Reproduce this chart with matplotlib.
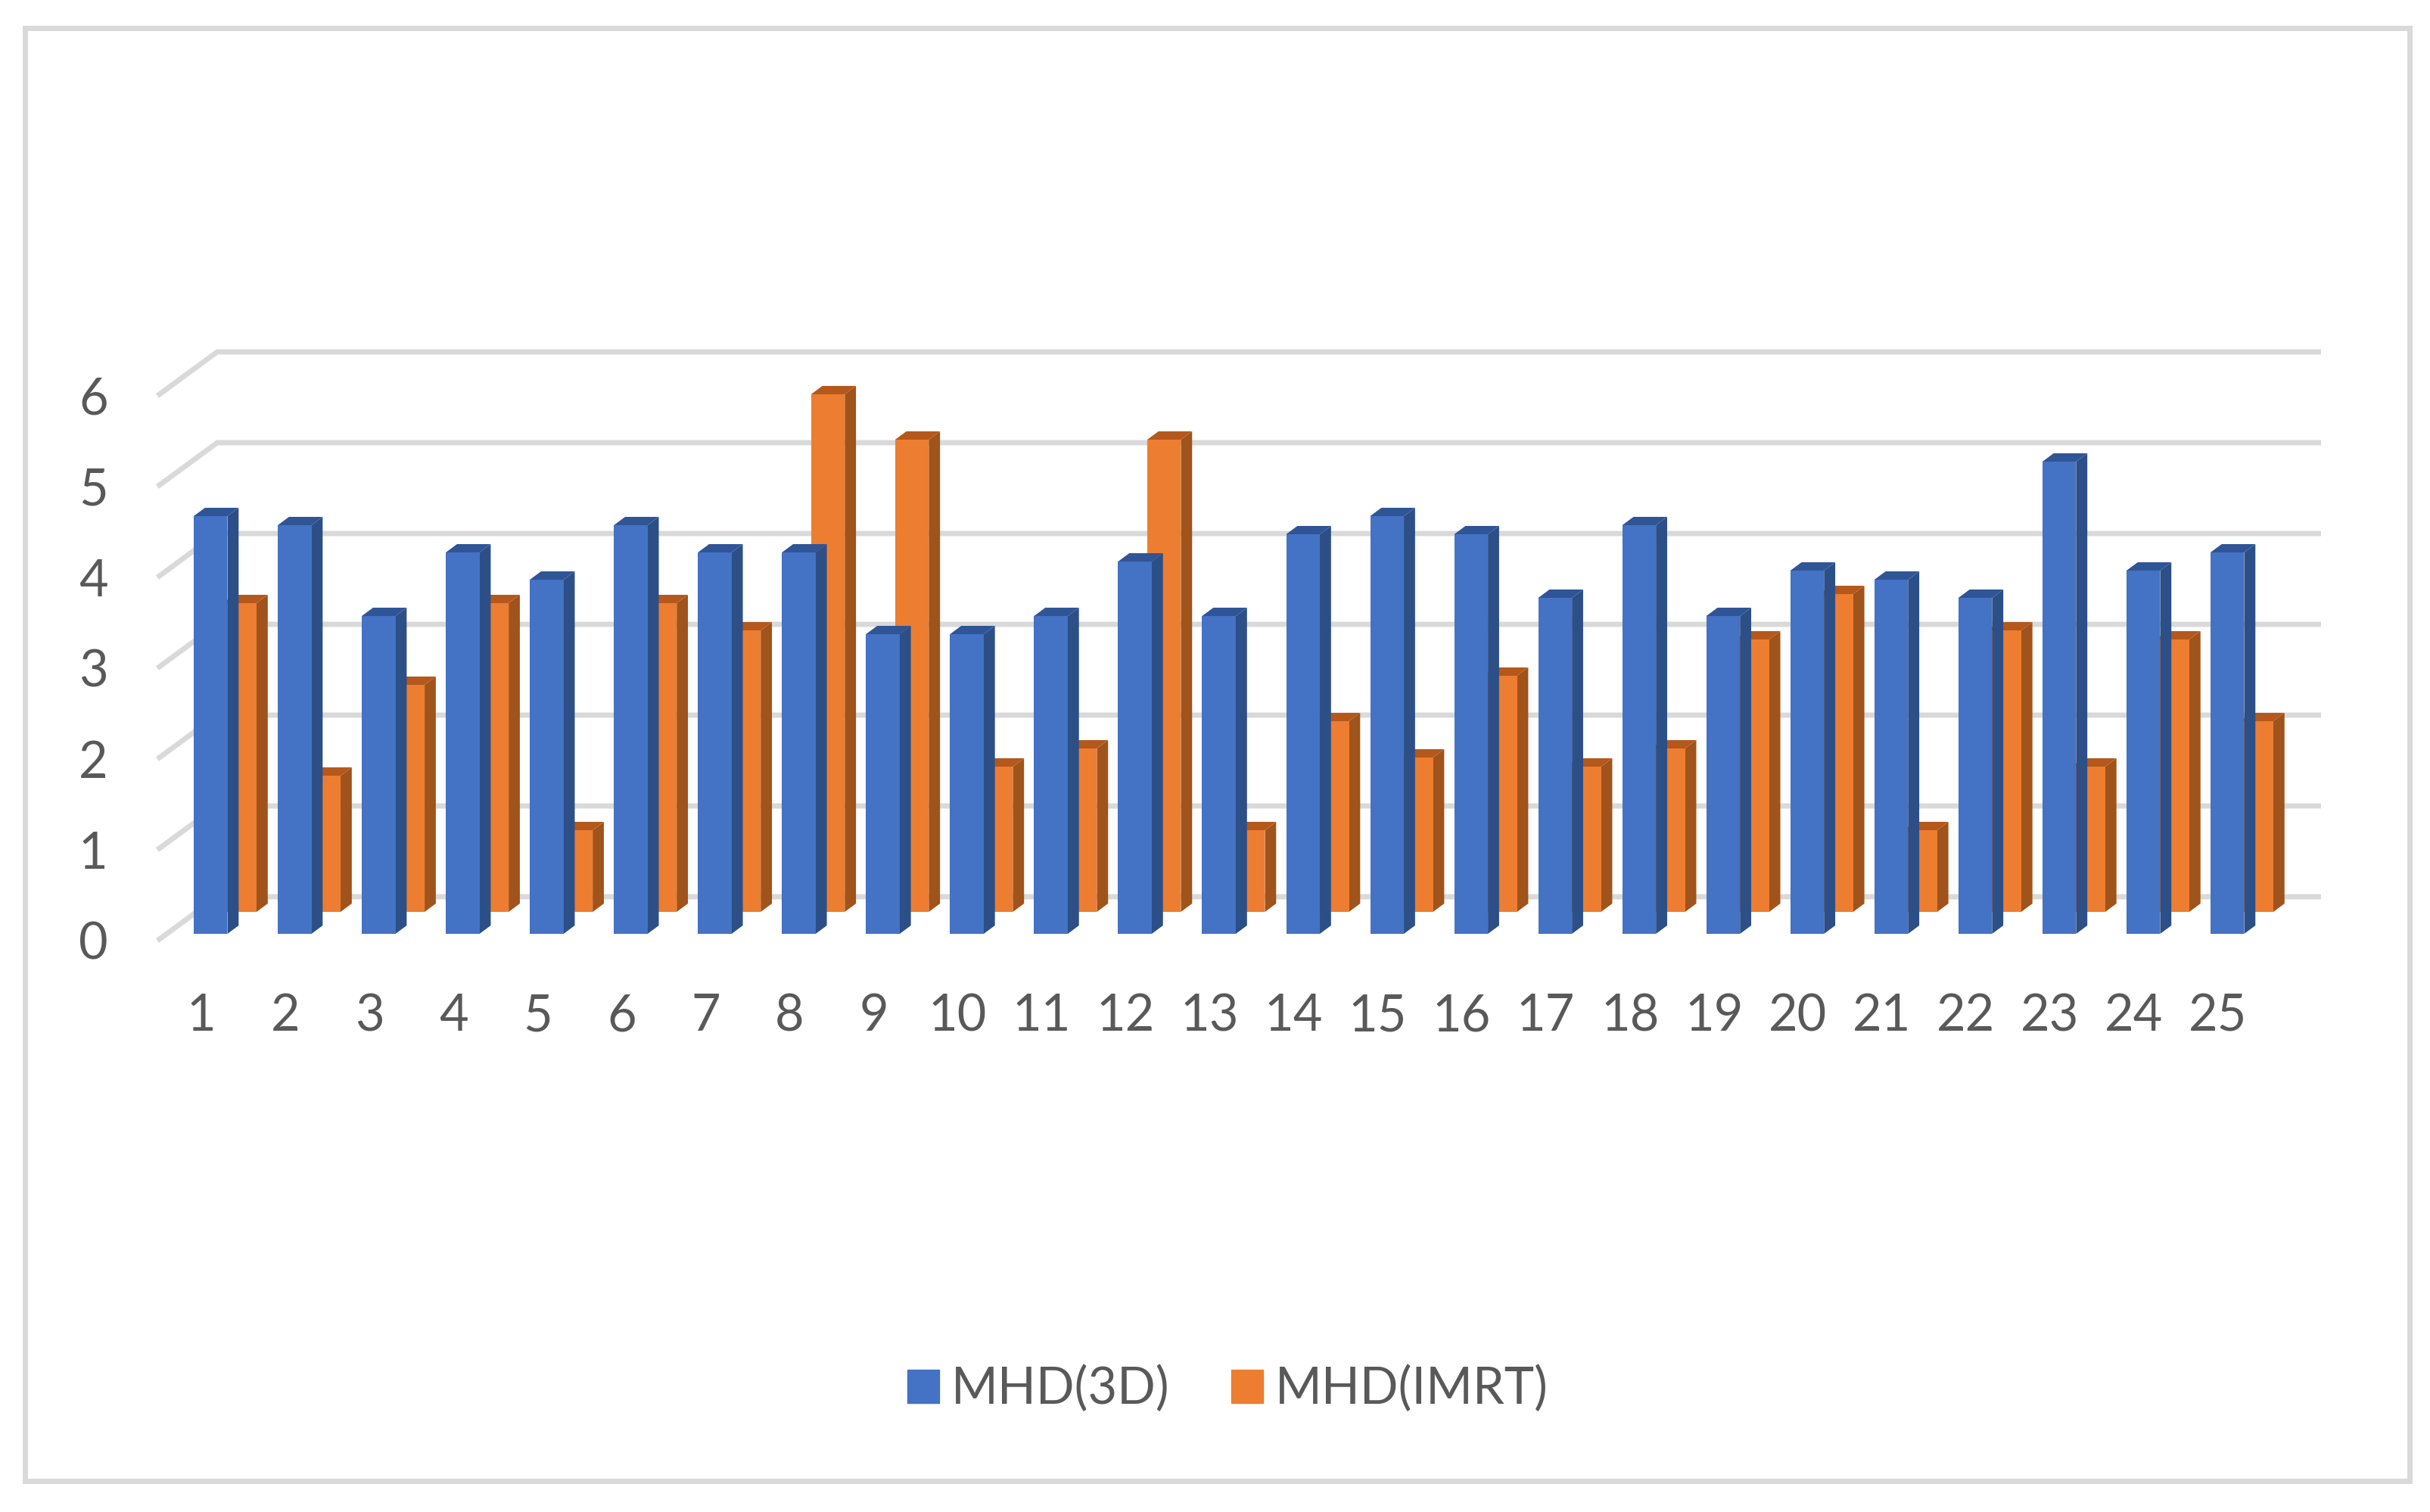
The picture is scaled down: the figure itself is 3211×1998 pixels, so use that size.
import matplotlib
matplotlib.use('Agg')
import matplotlib.pyplot as plt
from matplotlib.patches import Rectangle, Patch

plt.rcParams['font.family'] = ['Lato', 'DejaVu Sans']

categories = list(range(1, 26))
mhd_3d = [4.6, 4.5, 3.5, 4.2, 3.9, 4.5, 4.2, 4.2, 3.3, 3.3, 3.5, 4.1, 3.5,
          4.4, 4.6, 4.4, 3.7, 4.5, 3.5, 4.0, 3.9, 3.7, 5.2, 4.0, 4.2]
mhd_imrt = [3.4, 1.5, 2.5, 3.4, 0.9, 3.4, 3.1, 5.7, 5.2, 1.6, 1.8, 5.2, 0.9,
            2.1, 1.7, 2.6, 1.6, 1.8, 3.0, 3.5, 0.9, 3.1, 1.6, 3.0, 2.1]
y_ticks = [0, 1, 2, 3, 4, 5, 6]

W, H = 3212, 1998
fig = plt.figure(figsize=(W / 100, H / 100), dpi=100, facecolor='white')

# axes box = front edge of the floor, pixel numbers measured on the picture
left, right, top, bottom = 208, 3067, 523, 1243
ax = fig.add_axes([left / W, 1 - bottom / H, (right - left) / W, (bottom - top) / H])
px_x = 111.04
px_y = 120.0
ax.set_xlim(1 + (left - 266) / px_x, 1 + (right - 266) / px_x)
ax.set_ylim(0, 6)

# back wall offset
wall_x = 79 / px_x
wall_y = 58 / px_y
grid_c = '#D9D9D9'
for v in y_ticks:
    ax.plot([ax.get_xlim()[0], ax.get_xlim()[0] + wall_x, ax.get_xlim()[1]],
            [v, v + wall_y, v + wall_y], color=grid_c, lw=5, clip_on=False,
            zorder=1, solid_joinstyle='miter', solid_capstyle='butt')

# bar sizes
bar_w = 44.5 / px_x
depth_x = 14.8 / px_x
depth_y = 11 / px_y
tick_to_bar = 10 / px_x
base_3d = 9 / px_y
shift_x = 38.5 / px_x
base_imrt = base_3d + 29 / px_y


def bars3d(xs, vals, base, face, side, roof, z):
    ax.bar(xs, vals, width=bar_w, bottom=base, align='edge', color=face, zorder=z + 1,
           clip_on=False)
    for x, v in zip(xs, vals):
        x1 = x + bar_w
        ax.fill([x1, x1 + depth_x, x1 + depth_x, x1],
                [base, base + depth_y, base + v + depth_y, base + v],
                color=side, lw=0, zorder=z, clip_on=False)
        ax.fill([x, x1, x1 + depth_x, x + depth_x],
                [base + v, base + v, base + v + depth_y, base + v + depth_y],
                color=roof, lw=0, zorder=z, clip_on=False)


x_3d = [c - tick_to_bar for c in categories]
x_imrt = [x + shift_x for x in x_3d]
bars3d(x_imrt, mhd_imrt, base_imrt, '#ED7D31', '#A0531A', '#B4581C', 2)
bars3d(x_3d, mhd_3d, base_3d, '#4472C4', '#2C4F88', '#2F5597', 4)

for s in ax.spines.values():
    s.set_visible(False)
ax.patch.set_visible(False)
ax.set_xticks(categories)
ax.set_yticks(y_ticks)
ax.tick_params(axis='both', length=0, labelsize=48, labelcolor='#595959')
ax.tick_params(axis='x', pad=50)
ax.tick_params(axis='y', pad=47)

handles = [Patch(color='#4472C4', label='MHD(3D)'), Patch(color='#ED7D31', label='MHD(IMRT)')]
fig.legend(handles=handles, ncol=2, loc='center', bbox_to_anchor=(1622 / W, 1 - 1836 / H),
           frameon=False, fontsize=48, labelcolor='#595959', handlelength=0.63,
           handleheight=0.63, handletextpad=0.24, columnspacing=1.22, borderpad=0)

# outer frame
fig.add_artist(Rectangle((33.5 / W, 1 - 1956.5 / H), (3184.5 - 33.5) / W, (1956.5 - 36.5) / H,
                         transform=fig.transFigure, fill=False, ec=grid_c, lw=5))

fig.savefig('out.png', dpi=100)
